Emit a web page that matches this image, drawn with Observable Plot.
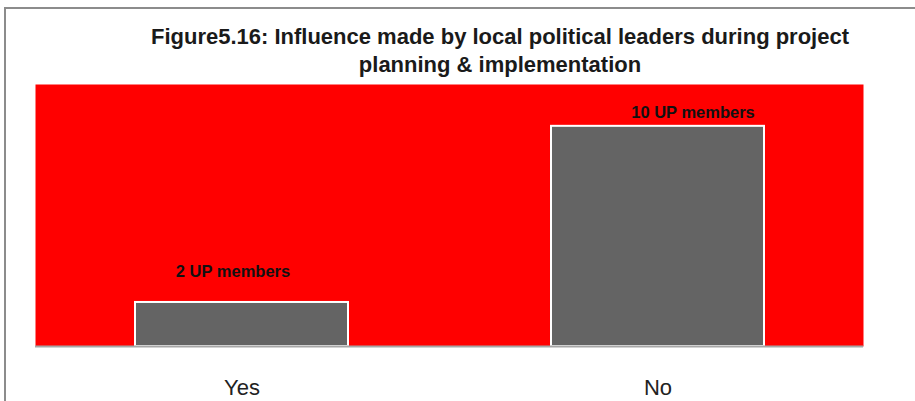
<!DOCTYPE html>
<html>
<head>
<meta charset="utf-8">
<script src="https://cdn.jsdelivr.net/npm/d3@7"></script>
<script src="https://cdn.jsdelivr.net/npm/@observablehq/plot@0.6"></script>
<style>
  html, body { margin: 0; padding: 0; background: #fff; }
  #wrap { position: relative; width: 915px; height: 401px; overflow: hidden; }
  #frame { position: absolute; left: 4px; top: 7px; width: 1000px; height: 500px;
           border-left: 2px solid #8c8c8c; border-top: 2px solid #8c8c8c; }
  #title { position: absolute; left: 0; top: 23px; width: 1000px; text-align: center;
           font-family: "Liberation Sans", sans-serif; font-weight: bold;
           font-size: 22px; line-height: 28px; color: #1a1a1a; }
  #chart { position: absolute; left: 0; top: 0; }
</style>
</head>
<body>
<div id="wrap">
  <div id="frame"></div>
  <div id="chart"></div>
  <div id="title">Figure5.16: Influence made by local political leaders during project<br>planning &amp; implementation</div>
</div>
<script>
const categories = ["Yes", "No"];
const values = [2, 10];
const labels = ["2 UP members", "10 UP members"];

const data = categories.map((c, i) => ({category: c, value: values[i], label: labels[i]}));

const plot = Plot.plot({
  width: 915,
  height: 401,
  marginTop: 84,
  marginBottom: 55,
  marginLeft: 35,
  marginRight: 52,
  style: {background: "transparent", fontFamily: "'Liberation Sans', sans-serif"},
  x: {domain: categories, paddingInner: 0.489, paddingOuter: 0.238, label: null},
  y: {domain: [0, 11.9], axis: null},
  marks: [
    Plot.frame({fill: "#ff0000", stroke: null}),
    Plot.barY(data, {x: "category", y: "value", fill: "#646464", stroke: "#ffffff", strokeWidth: 2}),
    Plot.ruleY([0], {stroke: "#a6a6a6", strokeWidth: 2}),
    Plot.text(data.filter((d, i) => i === 0), {x: "category", y: "value", text: "label", dx: -9, dy: -31,
      fontSize: 16.5, fontWeight: "bold", fill: "#111"}),
    Plot.text(data.filter((d, i) => i === 1), {x: "category", y: "value", text: "label", dx: 35, dy: -14,
      fontSize: 16.5, fontWeight: "bold", fill: "#111"}),
    Plot.axisX({tickSize: 0, tickPadding: 33, fontSize: 22, label: null, fill: "#222"})
  ]
});
document.getElementById("chart").appendChild(plot);
</script>
</body>
</html>
